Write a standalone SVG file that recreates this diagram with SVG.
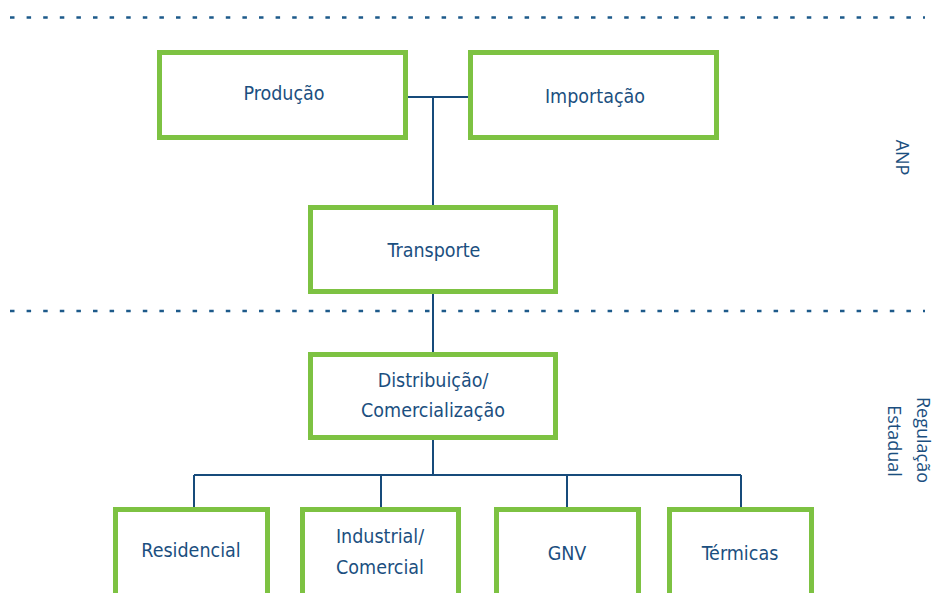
<svg xmlns="http://www.w3.org/2000/svg" width="935" height="593" viewBox="0 0 935 593">
<style>
.box{fill:#fff;stroke:#7dc242;stroke-width:5}
.lbl{font-family:"DejaVu Sans Condensed","DejaVu Sans",sans-serif;font-stretch:condensed;font-size:19.5px;fill:#1b4f80;text-anchor:middle}
.side{font-family:"Open Sans","Noto Sans",sans-serif;font-size:18px;fill:#1b4f80;text-anchor:middle}
.con{fill:none;stroke:#174b7b;stroke-width:2}
.dots{stroke:#1d5a8a;stroke-width:2.5;fill:none;stroke-dasharray:4.5 12.1}
</style>
<rect width="935" height="593" fill="#fff"/>
<g id="separators">
<line class="dots" x1="10" y1="17.5" x2="925" y2="17.5"/>
<line class="dots" x1="10" y1="311" x2="925" y2="311"/>
</g>
<g id="connectors">
<path class="con" d="M407 97H468M433 97V205M433 293V352M433 439V475M194 475H741M194 475V507M381 475V507M567 475V507M741 475V507"/>
</g>
<g id="producao"><rect class="box" x="159.5" y="52.5" width="246" height="85"/><text class="lbl" x="284" y="100">Produção</text></g>
<g id="importacao"><rect class="box" x="470.5" y="52.5" width="246" height="85"/><text class="lbl" x="595" y="103">Importação</text></g>
<g id="transporte"><rect class="box" x="310.5" y="207.5" width="245" height="84"/><text class="lbl" x="434" y="257">Transporte</text></g>
<g id="distribuicao"><rect class="box" x="310.5" y="354.5" width="245" height="83"/><text class="lbl" x="433" y="387">Distribuição/</text><text class="lbl" x="433" y="417">Comercialização</text></g>
<g id="residencial"><rect class="box" x="115.5" y="509.5" width="152" height="100"/><text class="lbl" x="191" y="557">Residencial</text></g>
<g id="industrial"><rect class="box" x="302.5" y="509.5" width="156" height="100"/><text class="lbl" x="380" y="543">Industrial/</text><text class="lbl" x="380" y="574">Comercial</text></g>
<g id="gnv"><rect class="box" x="496.5" y="509.5" width="142" height="100"/><text class="lbl" x="567" y="560">GNV</text></g>
<g id="termicas"><rect class="box" x="669.5" y="509.5" width="142" height="100"/><text class="lbl" x="740" y="560">Térmicas</text></g>
<g id="anp"><text class="side" transform="translate(896 157.5) rotate(90)">ANP</text></g>
<g id="regulacao"><text class="side" transform="translate(917 440) rotate(90)">Regulação</text><text class="side" transform="translate(888 441) rotate(90)">Estadual</text></g>
</svg>
